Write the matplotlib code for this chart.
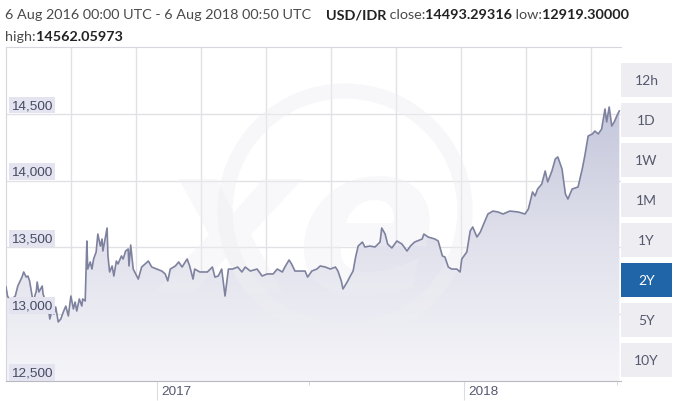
import numpy as np
import matplotlib.pyplot as plt
import matplotlib.dates as mdates
import matplotlib.transforms as mtransforms
from matplotlib.patches import Rectangle, Circle
from matplotlib.offsetbox import TextArea, HPacker, AnchoredOffsetbox
from matplotlib.colors import LinearSegmentedColormap

# USD/IDR, values (days counted from the left edge of the axis)
start = np.datetime64('2016-07-06')
days = [0, 2, 7, 11, 14, 19, 21, 24, 26, 28, 31, 32, 36, 37, 39, 43, 44, 46, 50, 52,
        55, 57, 59, 62, 65, 68, 71, 74, 77, 80, 82, 84, 87, 90, 91, 94, 96, 97, 100, 102,
        104, 107, 109, 112, 114, 115, 118, 120, 121, 123, 126, 128, 131, 133, 137, 139, 142, 145, 146, 148,
        151, 157, 161, 169, 173, 179, 185, 189, 192, 195, 201, 205, 209, 215, 218, 222, 224, 230, 239, 245,
        248, 252, 256, 260, 264, 269, 275, 280, 284, 290, 298, 304, 310, 317, 322, 328, 331, 336, 339, 343,
        349, 355, 358, 363, 369, 373, 379, 385, 391, 394, 398, 400, 405, 408, 412, 415, 418, 423, 426, 432,
        438, 444, 446, 450, 453, 458, 464, 470, 476, 480, 485, 494, 496, 501, 509, 513, 518, 521, 525, 529,
        535, 539, 541, 547, 551, 554, 559, 563, 566, 572, 578, 584, 590, 598, 608, 616, 620, 625, 628, 631,
        636, 640, 643, 648, 652, 655, 660, 664, 667, 672, 679, 684, 687, 691, 696, 699, 703, 707, 711, 713,
        716, 719, 722, 725, 728]
rate = [13204, 13129, 13114, 13136, 13211, 13278, 13316, 13278, 13286, 13249, 13136, 13091, 13174, 13241, 13166, 13211, 13151, 13114, 13061, 12964,
        13039, 13001, 13054, 12942, 12964, 13016, 13061, 12987, 13136, 13039, 13091, 13024, 13114, 13061, 13114, 13099, 13548, 13338, 13391, 13338,
        13413, 13466, 13600, 13510, 13563, 13473, 13578, 13645, 13436, 13316, 13361, 13286, 13398, 13376, 13436, 13413, 13473, 13488, 13361, 13518,
        13338, 13263, 13353, 13398, 13353, 13338, 13323, 13301, 13249, 13338, 13361, 13391, 13353, 13413, 13361, 13263, 13338, 13316, 13316, 13353,
        13278, 13286, 13338, 13136, 13338, 13338, 13353, 13316, 13353, 13323, 13338, 13286, 13301, 13301, 13338, 13316, 13353, 13406, 13376, 13323,
        13323, 13323, 13278, 13323, 13338, 13361, 13353, 13338, 13353, 13323, 13249, 13189, 13241, 13278, 13323, 13428, 13510, 13540, 13503, 13510,
        13503, 13540, 13645, 13600, 13525, 13496, 13548, 13525, 13473, 13510, 13540, 13563, 13600, 13578, 13563, 13548, 13436, 13428, 13353, 13338,
        13338, 13316, 13413, 13466, 13623, 13653, 13578, 13615, 13660, 13750, 13772, 13765, 13750, 13772, 13765, 13750, 13787, 13915, 13885, 13937,
        13975, 14072, 13990, 14072, 14162, 14177, 14087, 13900, 13862, 13937, 13952, 14087, 14184, 14334, 14349, 14371, 14349, 14386, 14536, 14439,
        14551, 14409, 14439, 14484, 14521]

y_ticks = [12500, 13000, 13500, 14000, 14500]
y_labels = ['12,500', '13,000', '13,500', '14,000', '14,500']
year_ticks = ['2017-01-01', '2018-01-01']
year_labels = ['2017', '2018']
half_ticks = ['2017-07-01', '2018-07-01']
buttons = ['12h', '1D', '1W', '1M', '1Y', '2Y', '5Y', '10Y']
selected = '2Y'

W, H = 676, 402
fig = plt.figure(figsize=(W / 100, H / 100), dpi=100)
ax = fig.add_axes([6 / W, 1 - 382 / H, 615 / W, 334 / H])

x = mdates.date2num(start + np.array(days, dtype='timedelta64[D]'))
x_end = mdates.date2num(np.datetime64('2018-07-06'))
x_start = mdates.date2num(start)

# gradient fill under the line
poly = ax.fill_between(x, rate, 12500, color='none', lw=0)
cmap = LinearSegmentedColormap.from_list('fade', ['#f5f5f9', '#dfe0eb', '#c2c5da'])
grad = np.linspace(0, 1, 256).reshape(-1, 1)
im = ax.imshow(grad, extent=[x_start, x_end, 12500, 14650], origin='lower',
               aspect='auto', cmap=cmap, zorder=1)
im.set_clip_path(poly.get_paths()[0], transform=ax.transData)

# faint watermark (pixel coords), kept under the line
ring = Circle((345, H - 212), 120, fill=False, lw=11, ec='#eeeef3', alpha=0.45, zorder=2)
ax.add_patch(ring)
ring.set_transform(mtransforms.IdentityTransform())
ax.text(300 / W, 1 - 235 / H, 'xe', transform=fig.transFigure, ha='center', va='center',
        fontsize=150, fontweight='bold', style='italic', color='#eeeef3', alpha=0.4, zorder=2)

ax.plot(x, rate, color='#7f829f', lw=1.2, zorder=4)

ax.set_xlim(x_start, x_end)
ax.set_ylim(12500, 15000)

# grid
for v in y_ticks[1:]:
    ax.axhline(v, color='#e2e2e6', lw=1, zorder=0)
step = (x_end - x_start) * 65 / 615
for k in range(1, 10):
    ax.axvline(x_start + k * step, color='#e2e2e6', lw=1, zorder=0)

for s in ['top', 'left']:
    ax.spines[s].set_color('#d6d6dc')
ax.spines['right'].set_visible(False)
ax.spines['bottom'].set_color('#b8b8c0')
ax.set_yticks([])

# y labels inside the plot
ytrans = ax.get_yaxis_transform() + mtransforms.ScaledTranslation(0, 2 / 72, fig.dpi_scale_trans)
for v, lab in zip(y_ticks, y_labels):
    ax.text(5 / 615, v, lab, transform=ytrans, ha='left', va='bottom',
            fontsize=9.7, family='Liberation Sans', color='#464a62', zorder=6,
            bbox=dict(boxstyle='square,pad=0.18', fc='#e3e4f0', ec='none'))

# x ticks
ax.set_xticks(mdates.date2num(np.array(year_ticks, dtype='datetime64[D]')))
ax.set_xticklabels(year_labels)
ax.tick_params(axis='x', which='major', length=14, direction='out', color='#dcdce2',
               pad=-11, labelsize=9.7, labelcolor='#555970')
ax.set_xticks(mdates.date2num(np.array(half_ticks, dtype='datetime64[D]')), minor=True)
ax.tick_params(axis='x', which='minor', length=3, color='#cfcfd6')
off = mtransforms.ScaledTranslation(3 / 72, 0, fig.dpi_scale_trans)
for lab in ax.get_xticklabels():
    lab.set_ha('left')
    lab.set_family('Liberation Sans')
    lab.set_transform(lab.get_transform() + off)

# header text
def header(parts, y):
    boxes = [TextArea(t, textprops=dict(fontsize=10.4, family='Lato',
                                        fontweight='bold' if b else 'normal',
                                        color='#222222' if b else '#4a4a4a'))
             for t, b in parts]
    pack = HPacker(children=boxes, align='baseline', pad=0, sep=0)
    fig.add_artist(AnchoredOffsetbox(loc='upper left', child=pack, pad=0, borderpad=0,
                                     frameon=False, bbox_to_anchor=(5 / W, 1 - y / H),
                                     bbox_transform=fig.transFigure))

header([('6 Aug 2016 00:00 UTC - 6 Aug 2018 00:50 UTC    ', False), ('USD/IDR', True),
        (' close:', False), ('14493.29316', True), (' low:', False), ('12919.30000', True)], 9)
header([('high:', False), ('14562.05973', True)], 31)

# range buttons
for i, b in enumerate(buttons):
    top = 64 + 40 * i
    on = b == selected
    fig.add_artist(Rectangle((621 / W, 1 - (top + 34) / H), 51 / W, 34 / H,
                             transform=fig.transFigure, fc='#1f65a8' if on else '#ededf2',
                             ec='none'))
    fig.text(646.5 / W, 1 - (top + 17) / H, b, ha='center', va='center', fontsize=10,
             family='Lato', color='white' if on else '#55596e')

fig.savefig('out.png', dpi=100)
